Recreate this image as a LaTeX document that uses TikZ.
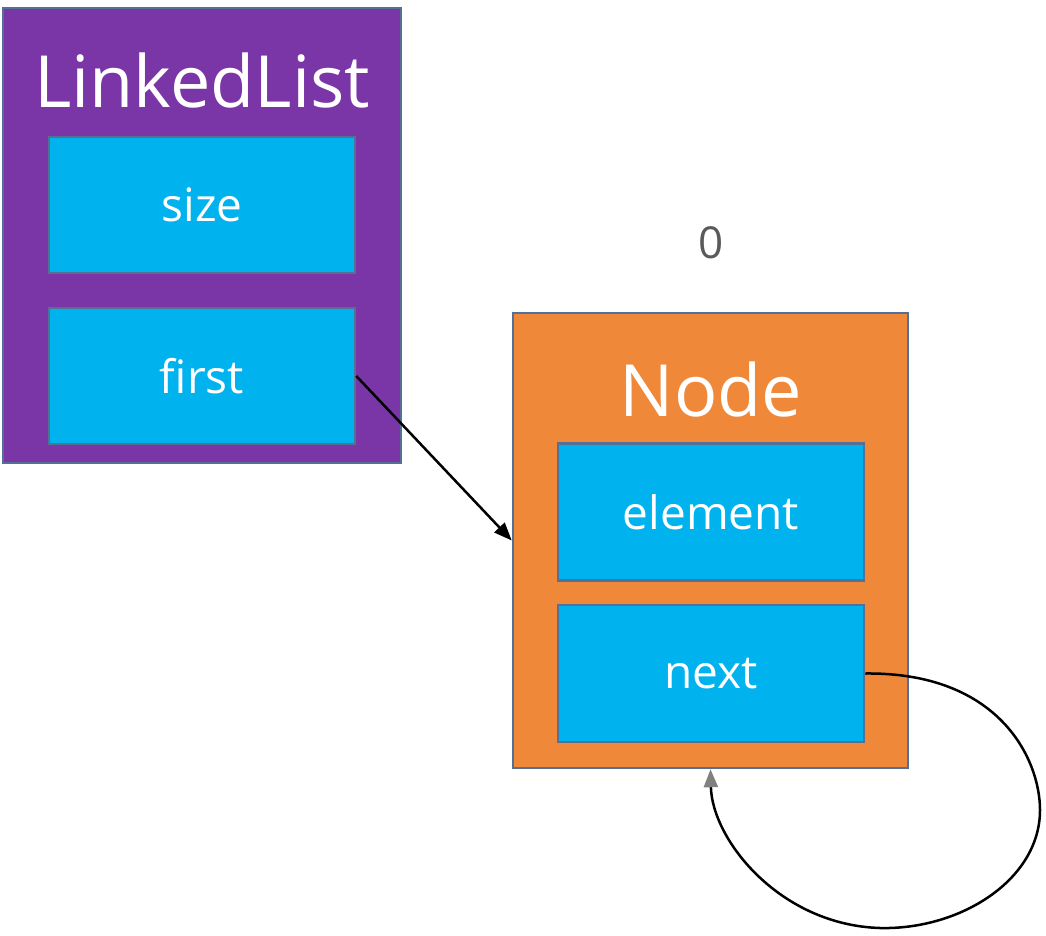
\documentclass[tikz,border=0pt]{standalone}
\usepackage{fontspec}
\setmainfont{Open Sans}
\usepackage{xcolor}
\usetikzlibrary{arrows.meta,positioning}

\definecolor{llpurple}{RGB}{122,53,166}
\definecolor{fieldblue}{RGB}{0,178,238}
\definecolor{nodeorange}{RGB}{240,136,58}
\definecolor{edgegray}{RGB}{84,112,150}
\definecolor{labelgray}{RGB}{90,90,90}

\begin{document}
\begin{tikzpicture}[
  x=1pt, y=-1pt,
  every node/.style={align=center, inner sep=0pt},
  outer/.style={draw=edgegray, line width=2.5pt},
  field/.style={draw=edgegray, line width=2.5pt, fill=fieldblue, text=white,
    minimum width=306pt, font=\fontsize{46}{54}\selectfont},
  title/.style={text=white, font=\fontsize{72}{82}\selectfont},
  link/.style={-{Triangle[length=18pt,width=14pt]}, line width=2.5pt}
]
\useasboundingbox (0,0) rectangle (1046,936);
% LinkedList object
\node[outer, fill=llpurple, minimum width=398pt, minimum height=455pt] (list) at (202,235.5) {};
\node[title] (listtitle) at (202,81) {LinkedList};
\node[field, minimum height=136pt] (size) at (202,205) {size};
\node[field, minimum height=136pt] (first) at (202,376) {first};
% Node object
\node[text=labelgray, font=\fontsize{44}{52}\selectfont] (index) at (711,243) {0};
\node[outer, fill=nodeorange, minimum width=395pt, minimum height=455pt] (node) at (710.5,540.5) {};
\node[title] (nodetitle) at (711,389) {Node};
\node[field, minimum height=137pt] (element) at (711,512) {element};
\node[field, minimum height=137pt] (next) at (711,673.5) {next};
% references
\draw[link] (first.east) -- (node.west);
\draw[line width=2.5pt, -{Triangle[length=18pt,width=14pt,color=gray]}]
  (next.east) .. controls (1000,672) and (1040,760) .. (1040,810)
  .. controls (1040,880) and (960,930) .. (880,928)
  .. controls (780,925) and (712,840) .. (node.south);
\end{tikzpicture}
\end{document}
